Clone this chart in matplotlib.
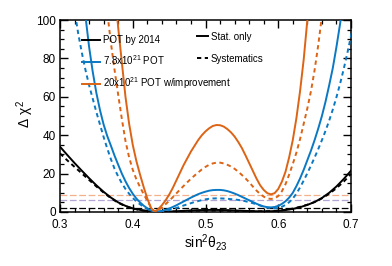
import numpy as np
import matplotlib
matplotlib.use("Agg")
import matplotlib.pyplot as plt
from matplotlib.lines import Line2D
from matplotlib.ticker import MultipleLocator, FormatStrFormatter

plt.rcParams['font.family'] = ['Liberation Sans', 'DejaVu Sans']
plt.rcParams['mathtext.fontset'] = 'custom'
plt.rcParams['mathtext.rm'] = 'Liberation Sans'
plt.rcParams['mathtext.it'] = 'Liberation Sans'

# POT by 2014 (black), sin^2 from 0.30 to 0.70 every 0.01
k_s = np.round(np.arange(0.30, 0.7001, 0.01), 3)
k_stat = [34, 29.7, 25.5, 21.5, 17.6, 13.9, 10.5, 7.5, 5.0, 3.2,
          1.9, 1.1, 0.5, 0.15, 0.1, 0.2, 0.4, 0.6, 0.8, 0.95,
          1.05, 1.1, 1.05, 0.95, 0.8, 0.65, 0.5, 0.4, 0.35, 0.4,
          0.6, 1.0, 1.6, 2.5, 3.7, 5.2, 7.3, 10, 13.3, 17.2,
          21.5]
k_syst = [30.5, 26.9, 23.5, 20.1, 16.7, 13.3, 10.1, 7.2, 4.8, 3.0,
          1.8, 1.0, 0.45, 0.15, 0.1, 0.15, 0.3, 0.45, 0.6, 0.7,
          0.75, 0.8, 0.75, 0.7, 0.6, 0.5, 0.4, 0.35, 0.35, 0.45,
          0.7, 1.15, 1.8, 2.7, 3.8, 5.2, 7.1, 9.5, 12.4, 15.8,
          19.8]

# 7.8x10^21 POT (blue), every 0.005
b_s_stat = np.round(np.arange(0.335, 0.6901, 0.005), 3)
b_stat = [102, 86, 73, 62, 53, 45.5, 39.5, 34.5, 29.3, 24.6,
          20, 16, 12.5, 9.5, 7, 5, 3.3, 1.9, 0.8, 0.1,
          0.1, 0.6, 1.1, 1.8, 2.6, 3.5, 4.5, 5.5, 6.5, 7.5,
          8.4, 9.3, 10.0, 10.6, 11.1, 11.4, 11.5, 11.5, 11.3, 10.9,
          10.3, 9.6, 8.8, 7.9, 7.0, 6.1, 5.2, 4.3, 3.5, 2.9,
          2.5, 2.4, 2.6, 3.2, 4.2, 5.6, 7.5, 10, 13.5, 17.5,
          22, 27, 32, 37.5, 43.5, 50, 57.5, 66, 75, 86,
          98, 111]
b_s_syst = np.round(np.arange(0.315, 0.7051, 0.005), 3)
b_syst = [118, 105, 93, 83, 74, 66, 59, 52, 45.5, 39,
          33, 27.5, 22.5, 18.5, 15, 12, 9.5, 7.3, 5.5, 4,
          2.7, 1.6, 0.7, 0.1, 0.1, 0.3, 0.6, 1.0, 1.5, 2.1,
          2.7, 3.4, 4.0, 4.6, 5.2, 5.7, 6.2, 6.6, 6.9, 7.05,
          7.1, 7.1, 7.0, 6.9, 6.7, 6.5, 6.3, 6.0, 5.6, 5.1,
          4.6, 4.0, 3.4, 2.8, 2.3, 2.0, 1.9, 2.1, 2.7, 3.7,
          5.1, 7.0, 9.6, 12.8, 16.4, 20.2, 24.2, 28.4, 32.8, 37.4,
          42.3, 47.6, 53.4, 59.8, 66.8, 74.5, 82.8, 91.7, 101]

# 20x10^21 POT w/improvement (orange), every 0.005
o_s_stat = np.round(np.arange(0.375, 0.6451, 0.005), 3)
o_stat = [117, 96, 78, 60, 46, 35, 26.5, 19.5, 13, 7,
          2.2, 0, 1.5, 3.5, 6, 9, 12.5, 16.5, 20.5, 24.5,
          28, 31.5, 34.5, 37.5, 40, 42, 43.6, 44.8, 45.3, 45.2,
          44.5, 43.2, 41.5, 39.3, 36.5, 33.3, 29.5, 25.5, 21.5, 17.5,
          14, 11.5, 9.8, 9.2, 9.8, 12, 15.8, 21, 28.5, 37.5,
          49, 63, 79.5, 100, 122]
o_s_syst = np.round(np.arange(0.360, 0.6651, 0.005), 3)
o_syst = [122, 104, 88, 74, 61, 48.5, 37, 28.5, 22, 17,
          13, 9.3, 5.8, 2.5, 0.2, 1, 2.3, 4, 5.8, 7.7,
          9.7, 11.7, 13.6, 15.5, 17.3, 19, 20.6, 22.2, 23.5, 24.6,
          25.3, 25.7, 25.7, 25.3, 24.6, 23.7, 22.5, 21, 19.3, 17.5,
          15.5, 13.3, 11.2, 9.4, 8.0, 7.1, 6.8, 7.1, 8.3, 10.8,
          14.5, 19.5, 25, 31, 38, 46, 54, 63, 74, 87,
          102, 118]

# horizontal reference levels
levels = [9.0, 6.18, 2.30]
level_colors = ['#f4b08a', '#b3a6d4', 'black']

blue = '#0a78c2'
orange = '#dc6414'

def main():
    fig = plt.figure(figsize=(3.92, 2.66), dpi=100)
    ax = fig.add_axes([60/392, 54/266, 291/392, 192/266])

    for lv, c in zip(levels, level_colors):
        ax.axhline(lv, color=c, lw=0.9, dashes=(5.4, 2.1), zorder=1)

    lw = 1.4
    dd = (2.2, 1.8)
    ax.plot(k_s, k_stat, color='black', lw=lw, zorder=3)
    ax.plot(k_s, k_syst, color='black', lw=lw, dashes=dd, zorder=3)
    ax.plot(b_s_stat, b_stat, color=blue, lw=lw, zorder=3)
    ax.plot(b_s_syst, b_syst, color=blue, lw=lw, dashes=dd, zorder=3)
    ax.plot(o_s_stat, o_stat, color=orange, lw=lw, zorder=3)
    ax.plot(o_s_syst, o_syst, color=orange, lw=lw, dashes=dd, zorder=3)

    ax.set_xlim(0.3, 0.7)
    ax.set_ylim(0, 100)

    ax.xaxis.set_major_locator(MultipleLocator(0.1))
    ax.xaxis.set_minor_locator(MultipleLocator(0.02))
    ax.yaxis.set_major_locator(MultipleLocator(20))
    ax.yaxis.set_minor_locator(MultipleLocator(5))
    ax.xaxis.set_major_formatter(FormatStrFormatter('%g'))
    ax.tick_params(which='both', direction='in', top=True, right=True, labelsize=8.5)
    ax.tick_params(axis='x', pad=4.8)
    ax.tick_params(axis='y', pad=3)
    ax.tick_params(which='major', length=5.5, width=1.0)
    ax.tick_params(which='minor', length=3, width=0.9)
    for sp in ax.spines.values():
        sp.set_linewidth(1.1)

    ax.set_ylabel(r'$\Delta$ $\chi^2$', fontsize=10)
    ax.yaxis.set_label_coords(-0.082, 0.51)
    ax.set_xlabel(r'sin$^2\theta_{23}$', fontsize=10)
    ax.xaxis.set_label_coords(0.5, -0.105)
    ax.xaxis.label.set_verticalalignment('top')

    h1 = [Line2D([], [], color='black', lw=lw),
          Line2D([], [], color=blue, lw=lw),
          Line2D([], [], color=orange, lw=lw)]
    lab1 = ['POT by 2014', r'7.8x10$^{21}$ POT', r'20x10$^{21}$ POT w/improvement']
    leg1 = ax.legend(h1, lab1, loc='upper left', bbox_to_anchor=(0.0756, 0.922),
                     frameon=False, fontsize=7, handlelength=1.85, handletextpad=0.28,
                     labelspacing=0.85, borderpad=0, borderaxespad=0)
    ax.add_artist(leg1)

    h2 = [Line2D([], [], color='black', lw=lw),
          Line2D([], [], color='black', lw=lw, dashes=(2.2, 1.8))]
    lab2 = ['Stat. only', 'Systematics']
    ax.legend(h2, lab2, loc='upper left', bbox_to_anchor=(0.471, 0.94),
              frameon=False, fontsize=7, handlelength=1.13, handletextpad=0.28,
              labelspacing=1.25, borderpad=0, borderaxespad=0)

    fig.savefig("out.png", dpi=100)

main()
